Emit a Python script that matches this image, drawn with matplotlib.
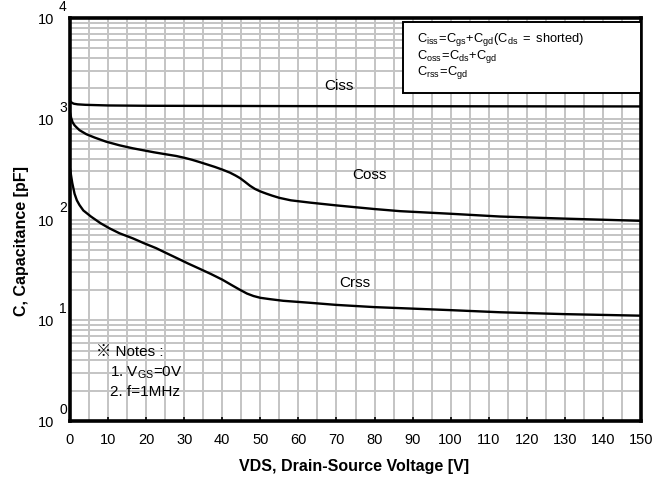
import matplotlib
matplotlib.use("Agg")
import matplotlib.pyplot as plt
import matplotlib.transforms as mtransforms
from matplotlib.ticker import MultipleLocator, LogLocator, NullFormatter, FixedLocator
from matplotlib.patches import Rectangle

plt.rcParams['font.family'] = ['Liberation Sans', 'Noto Sans CJK JP', 'DejaVu Sans']
plt.rcParams['mathtext.fontset'] = 'custom'
plt.rcParams['mathtext.rm'] = 'Liberation Sans'
plt.rcParams['mathtext.it'] = 'Liberation Sans'

# Data
ciss_v = [0, 0.5, 1, 2, 4, 7, 10, 20, 40, 60, 100, 150]
ciss_c = [1500, 1440, 1410, 1390, 1375, 1365, 1355, 1345, 1340, 1335, 1330, 1325]

coss_v = [0, 0.3, 0.7, 1.2, 1.6, 2.5, 4.3, 6.5, 9.5, 13, 16.5, 22, 25, 27.9, 30, 32, 34, 36,
          38, 40, 42, 43.5, 44.7, 46, 47.3, 48.6, 50, 51.5, 53, 55, 58, 63.1, 70, 80, 86.7,
          100, 113, 130, 150]
coss_c = [1150, 1020, 920, 860, 830, 770, 702, 650, 592, 545, 509, 465, 445, 427, 410, 392,
          372, 352, 333, 313, 292, 273, 257, 236, 216, 201, 190, 181, 173, 164, 155, 147,
          138, 127, 121, 114, 107, 102, 97]

crss_v = [0, 0.3, 0.6, 1.2, 1.8, 2.5, 3.5, 5.5, 8, 10.3, 13, 16.5, 19.5, 22.6, 25, 28, 31,
          34, 37, 40, 42.5, 44.7, 46.5, 48.2, 50, 52.5, 56, 63.1, 70, 80, 100, 113, 130, 150]
crss_c = [320, 270, 230, 180, 155, 139, 123, 107, 92, 82, 73, 65, 58, 52, 47, 41.5, 36.6,
          32.5, 28.8, 25.3, 22.3, 20, 18.4, 17.4, 16.7, 16.2, 15.6, 14.9, 14.2, 13.5, 12.6,
          12.0, 11.5, 11.1]

x_ticks = list(range(0, 151, 10))
y_exps = [0, 1, 2, 3, 4]

W, H = 663, 480
fig = plt.figure(figsize=(W / 100, H / 100), dpi=100)
ax = fig.add_axes([70 / W, 1 - 421 / H, (641 - 70) / W, (421 - 18) / H])

ax.set_yscale('log')
ax.set_xlim(0, 150)
ax.set_ylim(1, 1e4)

ax.xaxis.set_major_locator(FixedLocator(x_ticks))
ax.xaxis.set_minor_locator(MultipleLocator(5))
ax.yaxis.set_major_locator(FixedLocator([10 ** e for e in y_exps]))
ax.yaxis.set_minor_locator(LogLocator(base=10, subs=range(2, 10)))
ax.yaxis.set_minor_formatter(NullFormatter())
ax.set_xticklabels([str(t) for t in x_ticks], fontsize=10.5)
ax.set_yticklabels([])

ax.grid(True, which='both', color='#c4c4c4', linewidth=1.4, zorder=0)
ax.set_axisbelow(True)
ax.tick_params(axis='x', which='major', direction='in', length=3, width=1.2, pad=9)
ax.tick_params(axis='x', which='minor', length=0)
ax.tick_params(axis='y', which='both', length=0)
for s in ax.spines.values():
    s.set_linewidth(2.6)
    s.set_color('black')

# y tick labels as "10" with raised exponent
for e in y_exps:
    base_tr = mtransforms.blended_transform_factory(fig.transFigure, ax.transData)
    ax.text(54 / W, 10 ** e, '10', fontsize=10.5, ha='right', va='center',
            transform=base_tr + mtransforms.ScaledTranslation(0, -2 / 100, fig.dpi_scale_trans))
    ax.text(59 / W, 10 ** e, str(e), fontsize=10, ha='left', va='center',
            transform=base_tr + mtransforms.ScaledTranslation(0, 11 / 100, fig.dpi_scale_trans))

for v, c in [(ciss_v, ciss_c), (coss_v, coss_c), (crss_v, crss_c)]:
    ax.plot(v, c, color='black', linewidth=1.7, solid_capstyle='round', zorder=3)


def px2v(px):
    return (px - 70) / 571 * 150


def py2c(py):
    return 10 ** (4 - (py - 18) / 100.75)


ax.text(px2v(339), py2c(86), 'Ciss', fontsize=11, ha='center', va='center', zorder=4)
ax.text(px2v(369), py2c(175), 'Coss', fontsize=11, ha='center', va='center', zorder=4)
ax.text(px2v(355), py2c(283), 'Crss', fontsize=11, ha='center', va='center', zorder=4)

# Formula box
bx0 = px2v(402.5)
by0 = py2c(92.5)
by1 = py2c(21.5)
ax.add_patch(Rectangle((bx0, by0), 150 - bx0, by1 - by0, facecolor='white',
                       edgecolor='black', linewidth=1.4, zorder=5, clip_on=False))
lines = [r'$\mathregular{C_{iss}\!=\!C_{gs}\!+\!C_{gd}(C_{ds}\ =\ shorted)}$',
         r'$\mathregular{C_{oss}\!=\!C_{ds}\!+\!C_{gd}}$',
         r'$\mathregular{C_{rss}\!=\!C_{gd}}$']
for txt, ypx in zip(lines, [40, 56.5, 73]):
    ax.text(px2v(416.5), py2c(ypx), txt, fontsize=9.3, ha='left', va='center', zorder=6)

# Notes
ax.text(px2v(96.5), py2c(352), '※ Notes :', fontsize=11, ha='left', va='center', zorder=4)
ax.text(px2v(109.5), py2c(373), r'1. V$\mathregular{_{GS}}$=0V', fontsize=11, ha='left',
        va='center', zorder=4)
ax.text(px2v(109.5), py2c(392.5), '2. f=1MHz', fontsize=11, ha='left', va='center', zorder=4)

ax.set_xlabel('VDS, Drain-Source Voltage [V]', fontsize=11.5, fontweight='bold')
ax.xaxis.set_label_coords((354.5 - 70) / 571, -(466 - 421) / 403)
ax.set_ylabel('C, Capacitance [pF]', fontsize=11.5, fontweight='bold')
ax.yaxis.set_label_coords((22 - 70) / 571, (421 - 241) / 403)
ax.xaxis.label.set_va('center')
ax.yaxis.label.set_va('center')

fig.savefig('out.png', dpi=100)
